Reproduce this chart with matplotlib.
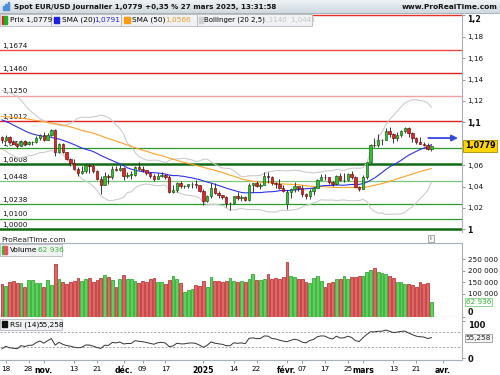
import numpy as np
import pandas as pd
import matplotlib
matplotlib.use("Agg")
import matplotlib.pyplot as plt
from matplotlib.patches import Rectangle
from matplotlib.transforms import blended_transform_factory

plt.rcParams['font.family'] = ['DejaVu Sans']

# ---------------- data ----------------
# closes before the visible window (used only to warm up SMA / Bollinger / RSI)
prior_close = [1.0930, 1.0922, 1.0920, 1.0916, 1.0932, 1.0993, 1.1012, 1.0967, 1.1027, 1.1076,
               1.1130, 1.1151, 1.1114, 1.1193, 1.1162, 1.1183, 1.1119, 1.1077, 1.1048, 1.1071,
               1.1046, 1.1087, 1.1111, 1.1085, 1.1025, 1.1017, 1.1012, 1.1075, 1.1075, 1.1133,
               1.1115, 1.1119, 1.1161, 1.1164, 1.1111, 1.1180, 1.1134, 1.1177, 1.1164, 1.1135,
               1.1068, 1.1048, 1.1032, 1.0975, 1.0975, 1.0978, 1.0941, 1.0935, 1.0937, 1.0910,
               1.0891, 1.0861]

open_ = [1.0863, 1.0833, 1.0867, 1.0816, 1.0797, 1.0782, 1.0826, 1.0797, 1.0815, 1.0817,
         1.0857, 1.0884, 1.0834, 1.0881, 1.0928, 1.0727, 1.0800, 1.0719, 1.0655, 1.0623,
         1.0565, 1.0529, 1.0541, 1.0597, 1.0596, 1.0544, 1.0473, 1.0416, 1.0496, 1.0487,
         1.0568, 1.0552, 1.0577, 1.0499, 1.0511, 1.0512, 1.0586, 1.0568, 1.0553, 1.0529,
         1.0496, 1.0468, 1.0501, 1.0511, 1.0488, 1.0352, 1.0365, 1.0430, 1.0405, 1.0405,
         1.0421, 1.0426, 1.0410, 1.0354, 1.0266, 1.0307, 1.0389, 1.0343, 1.0319, 1.0300,
         1.0244, 1.0244, 1.0308, 1.0291, 1.0301, 1.0273, 1.0415, 1.0430, 1.0409, 1.0415,
         1.0494, 1.0491, 1.0431, 1.0422, 1.0389, 1.0241, 1.0345, 1.0378, 1.0404, 1.0382,
         1.0329, 1.0307, 1.0362, 1.0387, 1.0465, 1.0492, 1.0486, 1.0444, 1.0421, 1.0502,
         1.0459, 1.0465, 1.0513, 1.0486, 1.0400, 1.0375, 1.0486, 1.0625, 1.0790, 1.0784,
         1.0833, 1.0834, 1.0918, 1.0888, 1.0853, 1.0880, 1.0922, 1.0944, 1.0898, 1.0855,
         1.0816, 1.0800, 1.0791, 1.0753]
high = [1.0872, 1.0880, 1.0873, 1.0835, 1.0806, 1.0838, 1.0838, 1.0823, 1.0827, 1.0870,
        1.0889, 1.0905, 1.0902, 1.0937, 1.0937, 1.0810, 1.0808, 1.0722, 1.0662, 1.0653,
        1.0580, 1.0595, 1.0608, 1.0610, 1.0610, 1.0558, 1.0496, 1.0534, 1.0514, 1.0589,
        1.0587, 1.0597, 1.0581, 1.0539, 1.0546, 1.0595, 1.0630, 1.0594, 1.0556, 1.0540,
        1.0518, 1.0523, 1.0537, 1.0515, 1.0509, 1.0413, 1.0443, 1.0447, 1.0417, 1.0428,
        1.0444, 1.0458, 1.0417, 1.0376, 1.0317, 1.0437, 1.0436, 1.0361, 1.0325, 1.0314,
        1.0253, 1.0311, 1.0353, 1.0320, 1.0314, 1.0432, 1.0436, 1.0453, 1.0432, 1.0533,
        1.0532, 1.0494, 1.0445, 1.0468, 1.0414, 1.0367, 1.0384, 1.0442, 1.0406, 1.0412,
        1.0337, 1.0372, 1.0391, 1.0469, 1.0513, 1.0515, 1.0488, 1.0452, 1.0505, 1.0529,
        1.0528, 1.0528, 1.0545, 1.0500, 1.0409, 1.0505, 1.0633, 1.0797, 1.0854, 1.0888,
        1.0846, 1.0947, 1.0955, 1.0902, 1.0905, 1.0925, 1.0955, 1.0952, 1.0906, 1.0861,
        1.0859, 1.0820, 1.0802, 1.0789]
low = [1.0811, 1.0826, 1.0808, 1.0793, 1.0761, 1.0779, 1.0788, 1.0788, 1.0790, 1.0805,
       1.0838, 1.0829, 1.0834, 1.0870, 1.0683, 1.0716, 1.0711, 1.0649, 1.0595, 1.0555,
       1.0497, 1.0518, 1.0523, 1.0530, 1.0522, 1.0462, 1.0332, 1.0415, 1.0423, 1.0472,
       1.0542, 1.0544, 1.0461, 1.0482, 1.0471, 1.0502, 1.0554, 1.0536, 1.0510, 1.0484,
       1.0452, 1.0466, 1.0492, 1.0472, 1.0342, 1.0343, 1.0344, 1.0385, 1.0387, 1.0386,
       1.0384, 1.0385, 1.0349, 1.0226, 1.0251, 1.0296, 1.0334, 1.0290, 1.0282, 1.0213,
       1.0178, 1.0235, 1.0272, 1.0265, 1.0266, 1.0265, 1.0350, 1.0398, 1.0377, 1.0414,
       1.0433, 1.0410, 1.0384, 1.0381, 1.0352, 1.0190, 1.0290, 1.0350, 1.0356, 1.0303,
       1.0284, 1.0287, 1.0316, 1.0382, 1.0462, 1.0462, 1.0426, 1.0401, 1.0418, 1.0453,
       1.0446, 1.0453, 1.0472, 1.0391, 1.0359, 1.0375, 1.0470, 1.0615, 1.0767, 1.0773,
       1.0790, 1.0832, 1.0867, 1.0806, 1.0823, 1.0866, 1.0902, 1.0858, 1.0817, 1.0797,
       1.0798, 1.0778, 1.0745, 1.0735]
close = [1.0833, 1.0867, 1.0816, 1.0797, 1.0782, 1.0826, 1.0797, 1.0815, 1.0817, 1.0857,
         1.0884, 1.0834, 1.0881, 1.0928, 1.0727, 1.0800, 1.0719, 1.0655, 1.0623, 1.0565,
         1.0529, 1.0541, 1.0597, 1.0596, 1.0544, 1.0473, 1.0416, 1.0496, 1.0487, 1.0568,
         1.0552, 1.0577, 1.0499, 1.0511, 1.0512, 1.0586, 1.0568, 1.0553, 1.0529, 1.0496,
         1.0468, 1.0501, 1.0511, 1.0488, 1.0352, 1.0365, 1.0430, 1.0405, 1.0405, 1.0421,
         1.0426, 1.0410, 1.0354, 1.0266, 1.0307, 1.0389, 1.0343, 1.0319, 1.0300, 1.0244,
         1.0244, 1.0308, 1.0291, 1.0301, 1.0273, 1.0415, 1.0430, 1.0409, 1.0415, 1.0494,
         1.0491, 1.0431, 1.0422, 1.0389, 1.0362, 1.0345, 1.0378, 1.0404, 1.0382, 1.0329,
         1.0307, 1.0362, 1.0387, 1.0465, 1.0492, 1.0486, 1.0444, 1.0421, 1.0502, 1.0459,
         1.0465, 1.0513, 1.0486, 1.0400, 1.0375, 1.0486, 1.0625, 1.0790, 1.0784, 1.0833,
         1.0834, 1.0918, 1.0888, 1.0853, 1.0880, 1.0922, 1.0944, 1.0898, 1.0855, 1.0816,
         1.0800, 1.0791, 1.0753, 1.0779]
volume = [142000, 134000, 149000, 155000, 148000, 148000, 131000, 158000, 158000, 148000,
          148000, 128000, 158000, 138000, 228000, 162000, 152000, 142000, 152000, 155000,
          168000, 155000, 164000, 168000, 152000, 159000, 168000, 181000, 171000, 159000,
          129000, 164000, 181000, 162000, 164000, 157000, 148000, 155000, 152000, 165000,
          170000, 149000, 149000, 142000, 159000, 177000, 165000, 145000, 106000, 116000,
          121000, 138000, 134000, 155000, 128000, 172000, 155000, 155000, 149000, 157000,
          168000, 157000, 149000, 155000, 149000, 164000,
          184000, 159000, 159000, 164000, 187000, 164000, 167000, 164000, 171000, 237000,
          178000, 171000, 162000, 162000, 152000, 148000, 167000, 178000, 157000, 129000,
          148000, 152000, 162000, 162000, 178000, 164000, 171000, 171000, 178000, 178000,
          193000, 201000, 210000, 193000, 191000, 187000, 178000, 170000, 152000, 149000,
          144000, 142000, 138000, 128000, 151000, 142000, 145000, 62936]

holidays = ['2024-12-25', '2025-01-01']
tick_dates = ['2024-10-18', '2024-10-28', '2024-11-01', '2024-11-13', '2024-11-21',
              '2024-12-02', '2024-12-09', '2024-12-17', '2025-01-02', '2025-01-14',
              '2025-01-22', '2025-02-03', '2025-02-07', '2025-02-17', '2025-02-25',
              '2025-03-03', '2025-03-13', '2025-03-21', '2025-04-01']
tick_labels = ['18', '28', 'nov.', '13', '21', 'déc.', '09', '17', '2025', '14', '22',
               'févr.', '07', '17', '25', 'mars', '13', '21', 'avr.']
bold_ticks = ['nov.', 'déc.', '2025', 'févr.', 'mars', 'avr.']

red_levels = [1.2000, 1.1674, 1.1460, 1.1250, 1.1012]
red_colors = ['#e8302a', '#f04848', '#e02020', '#f2a0a0', '#e02020']
green_levels = [1.0760, 1.0608, 1.0448, 1.0238, 1.0100, 1.0000]
green_colors = ['#2a9a2a', '#0f6a12', '#7cc47c', '#2a9a2a', '#2a9a2a', '#0f6a12']
green_widths = [0.9, 1.8, 0.9, 0.9, 0.9, 1.8]
level_label_hidden = [1.2000]

price_ticks = [1.0, 1.02, 1.04, 1.06, 1.08, 1.10, 1.12, 1.14, 1.16, 1.18, 1.20]
price_ticks_hidden = [1.08]          # covered by the last-price box
vol_ticks = [0, 100000, 150000, 200000, 250000]
arrow_price = 1.0853

header_text = 'Spot EUR/USD Journalier 1,0779 +0,35 % 27 mars 2025, 13:31:58'
prix_label = '1,0779'
sma20_label = '1,0791'
sma50_label = '1,0566'
boll_label = '1,1140  1,0441'
vol_label = '62 936'
rsi_label = '55,258'

# ---------------- computations ----------------
n = len(close)
full_days = pd.bdate_range('2024-10-17', '2025-04-15')
full_days = full_days[~full_days.isin(pd.to_datetime(holidays))]
x = np.arange(n)
o = np.array(open_); h = np.array(high); l = np.array(low); c = np.array(close)

allc = pd.Series(prior_close + close)
np_ = len(prior_close)
sma20 = allc.rolling(20).mean().values[np_:]
sma50 = allc.rolling(50).mean().values[np_:]
std20 = allc.rolling(20).std(ddof=0).values[np_:]
bb_up = sma20 + 2.5 * std20
bb_dn = sma20 - 2.5 * std20
d = allc.diff()
gain = d.clip(lower=0).ewm(alpha=1/14, adjust=False).mean()
loss = (-d.clip(upper=0)).ewm(alpha=1/14, adjust=False).mean()
rsi = (100 - 100 / (1 + gain / loss)).values[np_:]

prevc = np.array([prior_close[-1]] + close[:-1])

# ---------------- figure ----------------
W, H = 500, 375
fig = plt.figure(figsize=(5, 3.75), dpi=100)
fig.patch.set_facecolor('white')


def rect(x0, y0, x1, y1):
    return [x0 / W, 1 - y1 / H, (x1 - x0) / W, (y1 - y0) / H]


XMIN = -2 / 3.8
XMAX = 460 / 3.8

ax_p = fig.add_axes(rect(0, 13, 462, 232))
ax_v = fig.add_axes(rect(0, 243, 462, 317))
ax_r = fig.add_axes(rect(0, 317, 462, 360))
for ax in (ax_p, ax_v, ax_r):
    ax.set_xlim(XMIN, XMAX)
    ax.set_facecolor('white')
    for s in ('left', 'top'):
        ax.spines[s].set_visible(False)
    ax.spines['right'].set_color('#a8b0b8')
    ax.spines['bottom'].set_color('#a8b0b8')
    ax.spines['right'].set_linewidth(0.8)
    ax.spines['bottom'].set_linewidth(0.8)
    ax.yaxis.tick_right()
    ax.tick_params(axis='y', length=2.5, width=0.6, color='#888888', pad=1.5,
                   labelsize=5.2, labelcolor='#111111')
    ax.tick_params(axis='x', length=0)
ax_p.spines['bottom'].set_visible(False)
ax_v.spines['top'].set_visible(True)
ax_v.spines['top'].set_color('#a8b0b8')
ax_v.spines['top'].set_linewidth(0.8)

# ---- price panel ----
ax_p.set_ylim(1 - 2.7 / 1070, 1 + 216.3 / 1070)
trans_p = blended_transform_factory(ax_p.transAxes, ax_p.transData)
for lev, col in zip(red_levels, red_colors):
    ax_p.axhline(lev, color=col, lw=1.0, zorder=1)
for lev, col, lw in zip(green_levels, green_colors, green_widths):
    ax_p.axhline(lev, color=col, lw=lw, zorder=1)
for lev in red_levels + green_levels:
    if lev in level_label_hidden:
        continue
    ax_p.text(0.004, lev + 0.0012, f"{lev:.4f}".replace('.', ','), transform=trans_p,
              fontsize=5.2, color='#111111', va='bottom', ha='left', zorder=2)

ax_p.plot(x, bb_up, color='#cccccc', lw=0.8, zorder=2)
ax_p.plot(x, bb_dn, color='#cccccc', lw=0.8, zorder=2)
ax_p.plot(x, sma50, color='#ffa126', lw=0.8, zorder=2)
ax_p.plot(x, sma20, color='#3030ee', lw=0.8, zorder=2)

up = c >= o
body_col = np.where(up, '#2fc42f', '#e42424')
edge_col = np.where(up, '#0c5a0c', '#6a0808')
ax_p.vlines(x, l, h, color='#1a1a1a', lw=0.6, zorder=3)
body_h = np.maximum(np.abs(c - o), 0.0004)
ax_p.bar(x, body_h, bottom=np.minimum(o, c) - (body_h - np.abs(c - o)) / 2, width=0.66,
         color=body_col, edgecolor=edge_col, lw=0.45, zorder=4)

ax_p.annotate('', xy=(n + 6.0, arrow_price), xytext=(n - 1.8, arrow_price),
              arrowprops=dict(arrowstyle='-|>', color='#3346dd', lw=1.3, mutation_scale=9,
                              shrinkA=0, shrinkB=0), zorder=5)

ax_p.set_yticks(price_ticks)
ax_p.set_yticklabels([
    '' if t in price_ticks_hidden else
    ('1' if abs(t - 1) < 1e-9 else f"{t:.2f}".rstrip('0').replace('.', ','))
    for t in price_ticks])
for t, lab in zip(price_ticks, ax_p.get_yticklabels()):
    if round(t * 100) % 10 == 0:
        lab.set_fontweight('bold')
        lab.set_fontsize(5.6)
    if abs(t - 1.2) < 1e-9:
        lab.set_va('top')
ax_p.set_xticks([])
ax_p.text(1.006, c[-1], prix_label, transform=trans_p,
          fontsize=5.8, fontweight='bold', va='center', ha='left', zorder=6, clip_on=False,
          bbox=dict(boxstyle='square,pad=0.18', fc='#ffd400', ec='#a88b00', lw=0.6))

# ---- volume panel ----
vcol = np.where(c >= prevc, '#5fd05f', '#e06666')
vedge = np.where(c >= prevc, '#17a017', '#b42020')
ax_v.bar(x, volume, width=0.78, color=vcol, edgecolor=vedge, lw=0.5, zorder=3)
ax_v.set_ylim(0, 319000)
ax_v.set_yticks(vol_ticks)
ax_v.set_yticklabels([f"{v:,}".replace(',', ' ') for v in vol_ticks])
for v, lab in zip(vol_ticks, ax_v.get_yticklabels()):
    if v == 0:
        lab.set_fontweight('bold')
        lab.set_fontsize(5.8)
        lab.set_va('bottom')
ax_v.set_xticks([])
trans_v = blended_transform_factory(ax_v.transAxes, ax_v.transData)
ax_v.text(1.008, volume[-1], vol_label, transform=trans_v,
          fontsize=5.2, color='#2fb52f', va='center', ha='left', clip_on=False, zorder=6,
          bbox=dict(boxstyle='square,pad=0.15', fc='white', ec='#7ccf7c', lw=0.6))

# ---- RSI panel ----
ax_r.set_ylim(-4.7, 110.7)
ax_r.plot(x, rsi, color='#333333', lw=0.7, zorder=3)
for lv in (30, 70):
    ax_r.axhline(lv, color='#9a9a9a', lw=0.6, ls=(0, (2.5, 2)), zorder=1)
ax_r.set_yticks([0, 100])
ax_r.set_yticklabels(['0', '100'])
for lab in ax_r.get_yticklabels():
    lab.set_fontweight('bold')
    lab.set_fontsize(6)
    if lab.get_text() == '100':
        lab.set_va('top')
trans_r = blended_transform_factory(ax_r.transAxes, ax_r.transData)
ax_r.text(1.008, rsi[-1], rsi_label, transform=trans_r,
          fontsize=5.2, color='#222222', va='center', ha='left', clip_on=False, zorder=6,
          bbox=dict(boxstyle='square,pad=0.15', fc='#f4f4f4', ec='#9a9a9a', lw=0.6))

tick_idx = [full_days.get_loc(pd.Timestamp(t)) for t in tick_dates]
ax_r.set_xticks(tick_idx)
ax_r.set_xticklabels(tick_labels)
ax_r.tick_params(axis='x', length=2, width=0.6, color='#888888', pad=2, labelsize=5.2)
for lab in ax_r.get_xticklabels():
    if lab.get_text() in bold_ticks:
        lab.set_fontweight('bold')
        lab.set_fontsize(5.6)

# ---------------- overlay (header, legends) ----------------
ov = fig.add_axes([0, 0, 1, 1], zorder=10)
ov.set_xlim(0, W)
ov.set_ylim(H, 0)
ov.axis('off')

grad = np.linspace(0, 1, 50).reshape(-1, 1)
ov.imshow(grad, extent=(0, W, 13, 0), aspect='auto',
          cmap=matplotlib.colors.LinearSegmentedColormap.from_list('hdr', ['#eef2f5', '#cfd9e0']),
          zorder=1)
ov.plot([0, W], [13, 13], color='#9aa6b0', lw=0.6, zorder=2)
for bx, bh in [(2.5, 4), (5, 6), (7.5, 8)]:
    ov.add_patch(Rectangle((bx, 10 - bh), 1.6, bh, color='#4a90d8', zorder=3))
ov.text(14, 6.8, header_text,
        fontsize=5.15, fontweight='bold', va='center', ha='left', color='#111111', zorder=3)
ov.text(498, 6.8, 'www.ProRealTime.com', fontsize=5.3, fontweight='bold', va='center',
        ha='right', color='#111111', zorder=3)


def legend_box(x0, x1, y0, y1):
    ov.add_patch(Rectangle((x0, y0), x1 - x0, y1 - y0, fc='#f1f2f3', ec='#b3b8bd', lw=0.6,
                           zorder=3))


# price legend row
legend_box(0, 51, 13.5, 25.5)
ov.add_patch(Rectangle((1.5, 15.5), 2.6, 8, color='#e02020', zorder=4))
ov.add_patch(Rectangle((4.1, 15.5), 2.6, 8, color='#22b022', zorder=4))
ov.text(9.5, 19.7, 'Prix ' + prix_label, fontsize=5.3, va='center', ha='left', zorder=4)
legend_box(51, 121, 13.5, 25.5)
ov.add_patch(Rectangle((53.5, 16.5), 5.5, 6, color='#1f1fe8', zorder=4))
ov.text(61.5, 19.7, 'SMA (20)', fontsize=5.3, va='center', ha='left', zorder=4)
ov.text(94.5, 19.7, sma20_label, fontsize=5.3, va='center', ha='left', color='#2020dd', zorder=4)
legend_box(121, 197, 13.5, 25.5)
ov.add_patch(Rectangle((124, 16.5), 5.5, 6, color='#ff9a10', zorder=4))
ov.text(131.5, 19.7, 'SMA (50)', fontsize=5.3, va='center', ha='left', zorder=4)
ov.text(165, 19.7, sma50_label, fontsize=5.3, va='center', ha='left', color='#f29a2a', zorder=4)
legend_box(197, 312, 13.5, 25.5)
ov.add_patch(Rectangle((198.8, 16.5), 4.5, 6, color='#cfcfcf', zorder=4))
ov.text(204.5, 19.7, 'Bollinger (20 2,5)', fontsize=5.0, va='center', ha='left', zorder=4)
ov.text(262, 19.7, boll_label, fontsize=5.0, va='center', ha='left', color='#c4c4c4',
        zorder=4)

# strip between price and volume
ov.text(1.5, 240.5, 'ProRealTime.com', fontsize=5.4, va='center', ha='left', color='#222222',
        zorder=4)
ov.add_patch(Rectangle((427.5, 235), 6, 7, fc='#f4f4f4', ec='#9a9a9a', lw=0.6, zorder=4))
ov.text(430.5, 238.7, 'i', fontsize=4.6, va='center', ha='center', color='#444444', zorder=5)

# volume legend
legend_box(0, 62, 244, 255.5)
ov.add_patch(Rectangle((1.5, 246), 2.6, 7.5, color='#33bb33', zorder=4))
ov.add_patch(Rectangle((4.1, 246), 2.6, 7.5, color='#e05555', zorder=4))
ov.text(9.5, 250, 'Volume', fontsize=5.3, va='center', ha='left', zorder=4)
ov.text(38, 250, vol_label, fontsize=5.3, va='center', ha='left', color='#33bb33', zorder=4)

# rsi legend
legend_box(0, 62, 318.5, 330)
ov.add_patch(Rectangle((1.8, 321), 5.2, 6.2, color='#111111', zorder=4))
ov.text(9.5, 324.5, 'RSI (14)', fontsize=5.3, va='center', ha='left', zorder=4)
ov.text(38, 324.5, rsi_label, fontsize=5.3, va='center', ha='left', zorder=4)

fig.savefig('out.png', dpi=100)
